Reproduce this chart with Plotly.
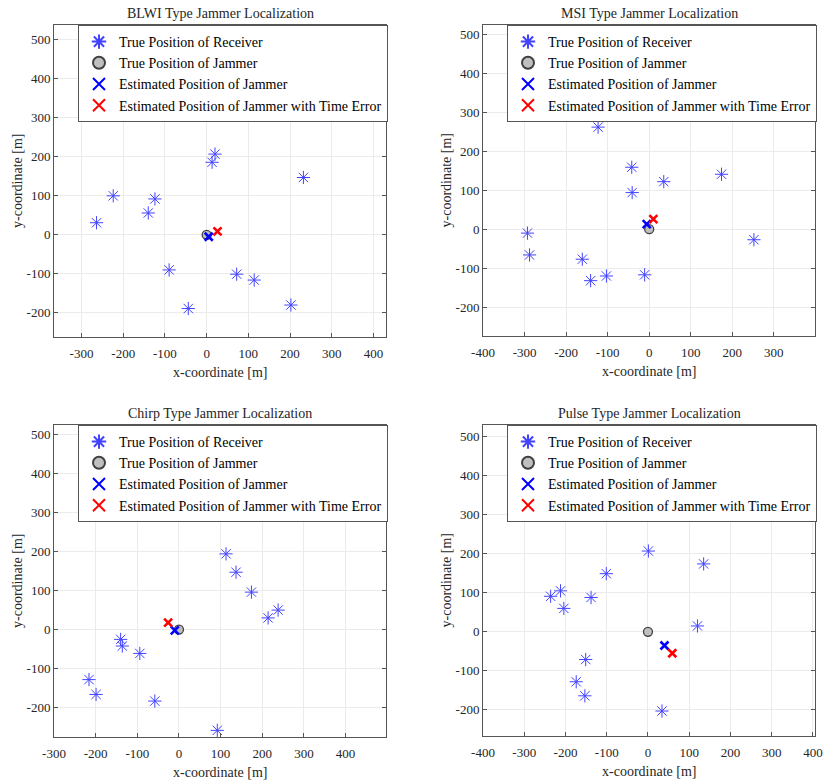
import plotly.graph_objects as go

# ---------------- data ----------------
titles = ["BLWI Type Jammer Localization", "MSI Type Jammer Localization",
          "Chirp Type Jammer Localization", "Pulse Type Jammer Localization"]

blwi_rx_x = [-264, -224, -124, -140, -90, -44, 20, 13, 72, 114, 202, 232]
blwi_rx_y = [31, 100, 92, 56, -90, -189, 207, 186, -101, -116, -180, 147]
blwi_true = [0, 0]
blwi_est = [5, -5]
blwi_est_err = [26, 9]

msi_rx_x = [-123, -42, -41, 35, 174, 252, -293, -288, -161, -141, -103, -11]
msi_rx_y = [262, 159, 94, 122, 141, -27, -10, -66, -77, -132, -120, -117]
msi_true = [0, 0]
msi_est = [-6, 13]
msi_est_err = [10, 26]

chirp_rx_x = [113, 137, 174, 238, 214, -140, -136, -94, -216, -199, -58, 92]
chirp_rx_y = [194, 147, 96, 50, 30, -25, -42, -61, -128, -166, -183, -258]
chirp_true = [0, 0]
chirp_est = [-10, -2]
chirp_est_err = [-26, 18]

pulse_rx_x = [1, 135, -101, -212, -236, -204, -138, 120, -151, -174, -153, 34]
pulse_rx_y = [207, 174, 149, 105, 91, 60, 88, 15, -71, -128, -164, -203]
pulse_true = [0, 0]
pulse_est = [40, -35]
pulse_est_err = [59, -55]

x_ticks = [[-300, -200, -100, 0, 100, 200, 300, 400],
           [-400, -300, -200, -100, 0, 100, 200, 300],
           [-300, -200, -100, 0, 100, 200, 300, 400],
           [-400, -300, -200, -100, 0, 100, 200, 300, 400]]
y_ticks = [-200, -100, 0, 100, 200, 300, 400, 500]

legend_names = ["True Position of Receiver", "True Position of Jammer",
                "Estimated Position of Jammer",
                "Estimated Position of Jammer with Time Error"]

# ---------------- layout geometry ----------------
W, H = 824, 784
plot_px = [  # left, right, top, bottom in window pixels
    (54, 386, 25, 337),
    (483, 815, 25, 336),
    (54, 386, 425, 737),
    (483, 815, 425, 736),
]
x_ranges = [[-366, 430], [-400, 399], [-300, 497], [-400, 405]]
y_ranges = [[-262, 538], [-274, 524], [-275, 524], [-267, 530]]

datasets = [
    (blwi_rx_x, blwi_rx_y, blwi_true, blwi_est, blwi_est_err),
    (msi_rx_x, msi_rx_y, msi_true, msi_est, msi_est_err),
    (chirp_rx_x, chirp_rx_y, chirp_true, chirp_est, chirp_est_err),
    (pulse_rx_x, pulse_rx_y, pulse_true, pulse_est, pulse_est_err),
]

FONT = "Liberation Serif, Times New Roman, serif"
TXT = "#262626"

fig = go.Figure()
annotations = []
layout = dict(width=W, height=H, margin=dict(l=0, r=0, t=0, b=0, autoexpand=False),
              template="none",
              paper_bgcolor="white", plot_bgcolor="white",
              font=dict(family=FONT, size=13, color=TXT))

for i, (rxx, rxy, tru, est, este) in enumerate(datasets):
    n = i + 1
    xa = "x" if n == 1 else f"x{n}"
    ya = "y" if n == 1 else f"y{n}"
    lg = "legend" if n == 1 else f"legend{n}"
    l, r, t, b = plot_px[i]
    xd = [l / W, r / W]
    yd = [1 - b / H, 1 - t / H]

    fig.add_trace(go.Scatter(x=rxx, y=rxy, mode="markers", name=legend_names[0],
                             xaxis=xa, yaxis=ya, legend=lg,
                             marker=dict(symbol="asterisk-open", size=11, color="#4343ff",
                                         line=dict(color="#4343ff", width=1.0))))
    fig.add_trace(go.Scatter(x=[tru[0]], y=[tru[1]], mode="markers", name=legend_names[1],
                             xaxis=xa, yaxis=ya, legend=lg,
                             marker=dict(symbol="circle", size=9, color="#bfbfbf",
                                         line=dict(color="#404040", width=1.3))))
    fig.add_trace(go.Scatter(x=[est[0]], y=[est[1]], mode="markers", name=legend_names[2],
                             xaxis=xa, yaxis=ya, legend=lg,
                             marker=dict(symbol="x-thin-open", size=8, color="#0000ff",
                                         line=dict(color="#0000ff", width=2.6))))
    fig.add_trace(go.Scatter(x=[este[0]], y=[este[1]], mode="markers", name=legend_names[3],
                             xaxis=xa, yaxis=ya, legend=lg,
                             marker=dict(symbol="x-thin-open", size=8, color="#ff0000",
                                         line=dict(color="#ff0000", width=2.6))))

    axcommon = dict(showgrid=True, gridcolor="#ebebeb", gridwidth=1, automargin=False,
                    zeroline=False, showline=True, linecolor="#555555", linewidth=1,
                    mirror="ticks", ticks="inside", ticklen=4, tickcolor="#555555",
                    tickfont=dict(family=FONT, size=13, color=TXT))
    layout["xaxis" if n == 1 else f"xaxis{n}"] = dict(
        axcommon, domain=xd, range=x_ranges[i], tickvals=x_ticks[i],
        ticktext=[str(v) for v in x_ticks[i]],
        anchor=ya, ticklabelstandoff=4)
    layout["yaxis" if n == 1 else f"yaxis{n}"] = dict(
        axcommon, domain=yd, range=y_ranges[i], tickvals=y_ticks,
        ticktext=[str(v) for v in y_ticks],
        anchor=xa)

    legend_left = (l + 24) / W
    layout[lg] = dict(x=legend_left, y=1 - t / H, xref="paper", yref="paper",
                      xanchor="left", yanchor="top", bgcolor="white",
                      bordercolor="#555555", borderwidth=1,
                      font=dict(family=FONT, size=14, color="black"),
                      itemsizing="constant", tracegroupgap=0)

    cx = (l + r) / 2
    annotations.append(dict(text=titles[i], x=cx / W, y=1 - (t - 12) / H,
                            xref="paper", yref="paper", showarrow=False,
                            xanchor="center", yanchor="middle",
                            font=dict(family=FONT, size=14, color=TXT)))
    annotations.append(dict(text="x-coordinate [m]", x=cx / W, y=1 - (b + 35) / H,
                            xref="paper", yref="paper", showarrow=False,
                            xanchor="center", yanchor="middle",
                            font=dict(family=FONT, size=14, color=TXT)))
    annotations.append(dict(text="y-coordinate [m]", x=(l - 37) / W, y=1 - ((t + b) / 2) / H,
                            xref="paper", yref="paper", showarrow=False, textangle=-90,
                            xanchor="center", yanchor="middle",
                            font=dict(family=FONT, size=14, color=TXT)))

layout["annotations"] = annotations
fig.update_layout(**layout)
fig.write_html("out.html", config={"displayModeBar": False},
               post_script="document.body.style.margin='0px';document.body.style.overflow='hidden';")
